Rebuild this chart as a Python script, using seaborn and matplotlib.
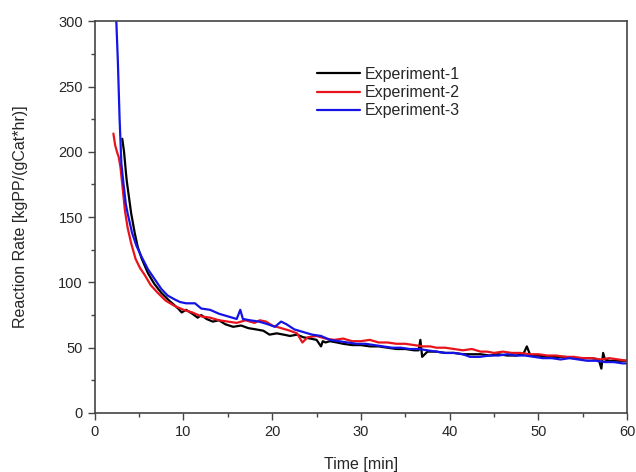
import pandas as pd
import matplotlib.pyplot as plt
import seaborn as sns
from matplotlib.ticker import MultipleLocator

sns.set_style("ticks")
plt.rcParams['font.family'] = ['Liberation Sans', 'DejaVu Sans']

# data (time in min, rate in kgPP/(gCat*hr))
exp1 = [(3.1, 210), (3.3, 200), (3.5, 185), (3.6, 178), (3.8, 168), (4.1, 153), (4.5, 138),
        (4.85, 127), (5.3, 118), (6, 107), (6.7, 99), (7.5, 92), (8.4, 86), (9.4, 80), (9.8, 77),
        (10.3, 79), (11, 76), (11.6, 73), (12, 75), (12.6, 72), (13.3, 70), (14, 71), (14.7, 68),
        (15.6, 66), (16.5, 67), (17.3, 65), (18.2, 64), (19, 63), (19.7, 60), (20.5, 61),
        (21.3, 60), (22, 59), (22.8, 60), (23.5, 58), (24.3, 57), (25, 56), (25.5, 51), (25.7, 55),
        (26, 54), (26.5, 55), (27.3, 54), (28, 53), (29, 52), (30, 52), (31, 51), (32, 51),
        (33, 50), (34, 49), (35, 49), (36, 48), (36.5, 48), (36.7, 56), (36.9, 43), (37.5, 47),
        (38.5, 47), (39.5, 46), (40.5, 46), (41.5, 45), (42.5, 45), (43.5, 45), (44.5, 44),
        (45.5, 45), (46.5, 44), (47.5, 44), (48.3, 45), (48.7, 51), (49.1, 44), (50, 44),
        (51, 43), (52, 43), (53, 43), (54, 42), (55, 42), (56, 42), (56.8, 41), (57.1, 34),
        (57.3, 46), (57.5, 41), (58, 40), (59, 40), (60, 40)]

exp2 = [(2.1, 214), (2.3, 205), (2.5, 200), (2.7, 196), (2.9, 188), (3.1, 175), (3.4, 155),
        (3.7, 142), (4.1, 130), (4.6, 118), (5.1, 111), (5.6, 106), (6.3, 98), (7.1, 92),
        (8, 86), (9, 82), (10, 79), (11, 77), (12, 74), (13, 73), (14, 71), (15, 70), (16, 69),
        (17, 71), (18, 69), (18.6, 71), (19.3, 70), (20, 67), (21, 65), (22, 63), (22.8, 61),
        (23.4, 54), (24, 58), (25, 59), (26, 57), (27, 56), (28, 57), (29, 55), (30, 55),
        (31, 56), (32, 54), (33, 54), (34, 53), (35, 53), (36, 52), (37, 51), (37.8, 51),
        (38.5, 50), (39.5, 50), (40.5, 49), (41.5, 48), (42.5, 49), (43.5, 47), (44.2, 47),
        (45, 46), (46, 47), (47, 46), (48, 46), (49, 45), (50, 45), (51, 44), (52, 44),
        (53, 43), (54, 43), (55, 42), (56, 42), (57, 41), (58, 42), (59, 41), (60, 40)]

exp3 = [(2.4, 305), (2.6, 270), (2.8, 225), (3.0, 191), (3.2, 178), (3.5, 160), (3.7, 153),
        (4.2, 138), (4.7, 128), (5.25, 120), (6, 110), (6.8, 102), (7.5, 95), (8.2, 90),
        (9, 87), (9.6, 85), (10.3, 84), (11.3, 84), (12, 80), (13, 79), (14, 76), (15, 74),
        (16, 72), (16.4, 79), (16.7, 72), (17.5, 71), (18.5, 70), (19.5, 68), (20.3, 66),
        (21, 70), (21.6, 68), (22.5, 64), (23.5, 62), (24.5, 60), (25.5, 59), (26.5, 56),
        (27.5, 55), (28.5, 54), (29.5, 53), (30.5, 53), (31.5, 52), (32.5, 51), (33.5, 50),
        (34.5, 50), (35.5, 49), (36.5, 49), (37.5, 48), (38.5, 47), (39.5, 46), (40.5, 46),
        (41.5, 45), (42.3, 43), (43.4, 43), (44.5, 44), (45.5, 44), (46.5, 45), (47.5, 44),
        (48.5, 44), (49.5, 43), (50.5, 42), (51.5, 42), (52.5, 41), (53.5, 42), (54.5, 41),
        (55.5, 40), (56.5, 40), (57.5, 39), (58.5, 39), (59.5, 38), (60, 38)]

names = ["Experiment-1", "Experiment-2", "Experiment-3"]
colors = ["black", "#e8131b", "#1414e6"]

frames = []
for name, pts in zip(names, [exp1, exp2, exp3]):
    d = pd.DataFrame(pts, columns=["time", "rate"])
    d["exp"] = name
    frames.append(d)
df = pd.concat(frames, ignore_index=True)

fig = plt.figure(figsize=(6.36, 4.72), dpi=100)
ax = fig.add_axes([0.149, 0.125, 0.837, 0.830])
sns.lineplot(data=df, x="time", y="rate", hue="exp", palette=colors,
             estimator=None, sort=False, linewidth=1.6, ax=ax)

ax.set_xlim(0, 60)
ax.set_ylim(0, 300)
ax.xaxis.set_major_locator(MultipleLocator(10))
ax.xaxis.set_minor_locator(MultipleLocator(5))
ax.yaxis.set_major_locator(MultipleLocator(50))
ax.yaxis.set_minor_locator(MultipleLocator(25))
ax.tick_params(which="both", direction="out", labelsize=10.5, color="#444444", width=1)
ax.tick_params(which="major", length=5)
ax.tick_params(which="minor", length=3)
for s in ax.spines.values():
    s.set_color("#444444")
    s.set_linewidth(1.2)

ax.set_xlabel("Time [min]", fontsize=11.5, labelpad=13)
ax.set_ylabel("Reaction Rate [kgPP/(gCat*hr)]", fontsize=11.5, labelpad=22)

ax.legend(title=None, frameon=False, loc="upper left", bbox_to_anchor=(0.39, 0.92),
          fontsize=11.5, handlelength=2.7, handletextpad=0.3, labelspacing=0.2)

plt.savefig("out.png", dpi=100)
